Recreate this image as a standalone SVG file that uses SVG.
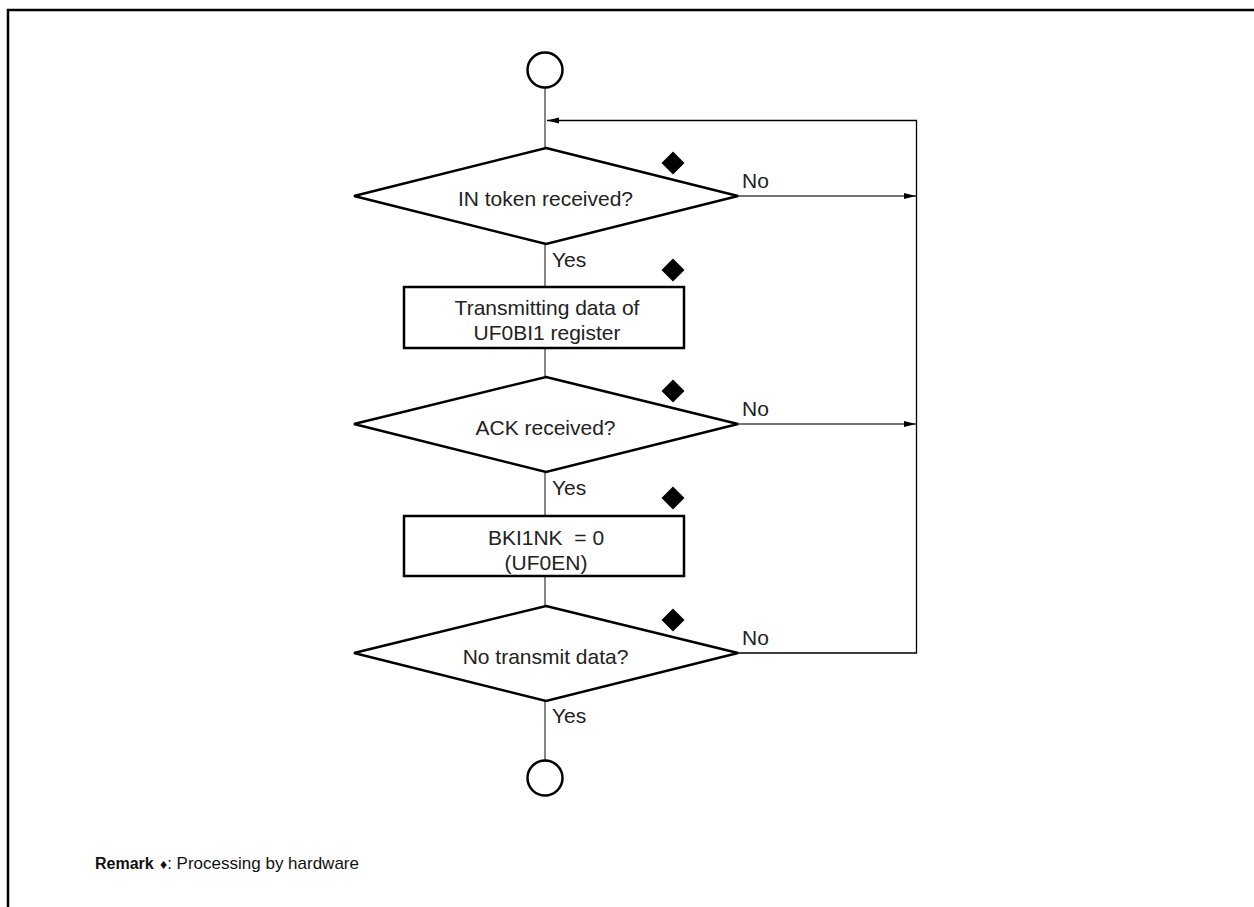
<svg xmlns="http://www.w3.org/2000/svg" width="1254" height="907" viewBox="0 0 1254 907">
<style>
.t{font-family:"Liberation Sans",Arial,sans-serif;font-size:21px;fill:#222}
.c{text-anchor:middle}
.shape{fill:#fff;stroke:#000;stroke-width:2.5}
.conn{fill:none;stroke:#444;stroke-width:1.3}
.hw{fill:#000}
.rm{font-family:"Liberation Sans",Arial,sans-serif;font-size:17px;fill:#111}
</style>
<defs>
<marker id="arr" markerWidth="12" markerHeight="8" refX="12" refY="4" orient="auto" markerUnits="userSpaceOnUse">
<path d="M0,1 L12,4 L0,7 Z" fill="#000"/>
</marker>
<path id="hwd" d="M0,-11.5 L11.5,0 L0,11.5 L-11.5,0 Z"/>
</defs>
<rect width="1254" height="907" fill="#fff"/>
<path d="M8,907 V10 H1254" fill="none" stroke="#000" stroke-width="2.5"/>
<g id="connectors">
<line class="conn" x1="545" y1="88" x2="545" y2="148"/>
<line class="conn" x1="545" y1="244" x2="545" y2="287"/>
<line class="conn" x1="545" y1="348" x2="545" y2="377"/>
<line class="conn" x1="545" y1="472" x2="545" y2="516"/>
<line class="conn" x1="545" y1="576" x2="545" y2="606"/>
<line class="conn" x1="545" y1="701" x2="545" y2="760"/>
<line class="conn" x1="738" y1="196" x2="916" y2="196" marker-end="url(#arr)"/>
<line class="conn" x1="738" y1="424" x2="916" y2="424" marker-end="url(#arr)"/>
<polyline class="conn" points="738,653 916.5,653 916.5,120.5 547,120.5" marker-end="url(#arr)" style="stroke:#000"/>
<text class="t" x="742" y="188">No</text>
<text class="t" x="742" y="416">No</text>
<text class="t" x="742" y="645">No</text>
<text class="t" x="552" y="267">Yes</text>
<text class="t" x="552" y="495">Yes</text>
<text class="t" x="552" y="723">Yes</text>
</g>
<g id="start"><circle class="shape" cx="545" cy="70" r="17.5" stroke-width="2"/></g>
<g id="d1">
<polygon class="shape" points="546,148 738,196 546,244 354,196"/>
<text class="t c" x="545.5" y="206">IN token received?</text>
<use href="#hwd" class="hw" x="673" y="163"/>
</g>
<g id="b1">
<rect class="shape" x="404" y="287" width="280" height="61"/>
<text class="t c" x="547" y="315">Transmitting data of</text>
<text class="t c" x="547" y="340">UF0BI1 register</text>
<use href="#hwd" class="hw" x="673" y="270"/>
</g>
<g id="d2">
<polygon class="shape" points="546,377 738,424 546,472 354,424"/>
<text class="t c" x="545.5" y="435">ACK received?</text>
<use href="#hwd" class="hw" x="673" y="391"/>
</g>
<g id="b2">
<rect class="shape" x="404" y="516" width="280" height="60"/>
<text class="t c" x="546" y="545">BKI1NK&#160; = 0</text>
<text class="t c" x="546" y="570">(UF0EN)</text>
<use href="#hwd" class="hw" x="673" y="498"/>
</g>
<g id="d3">
<polygon class="shape" points="546,606 738,653 546,701 354,653"/>
<text class="t c" x="545.5" y="664">No transmit data?</text>
<use href="#hwd" class="hw" x="673" y="620"/>
</g>
<g id="end"><circle class="shape" cx="545" cy="778" r="17.5" stroke-width="2"/></g>
<g id="remark">
<text class="rm" x="95" y="869" style="font-weight:bold;font-size:16px">Remark</text>
<text class="rm" x="160" y="869"><tspan style="font-size:14px">♦</tspan>: Processing by hardware</text>
</g>
</svg>
